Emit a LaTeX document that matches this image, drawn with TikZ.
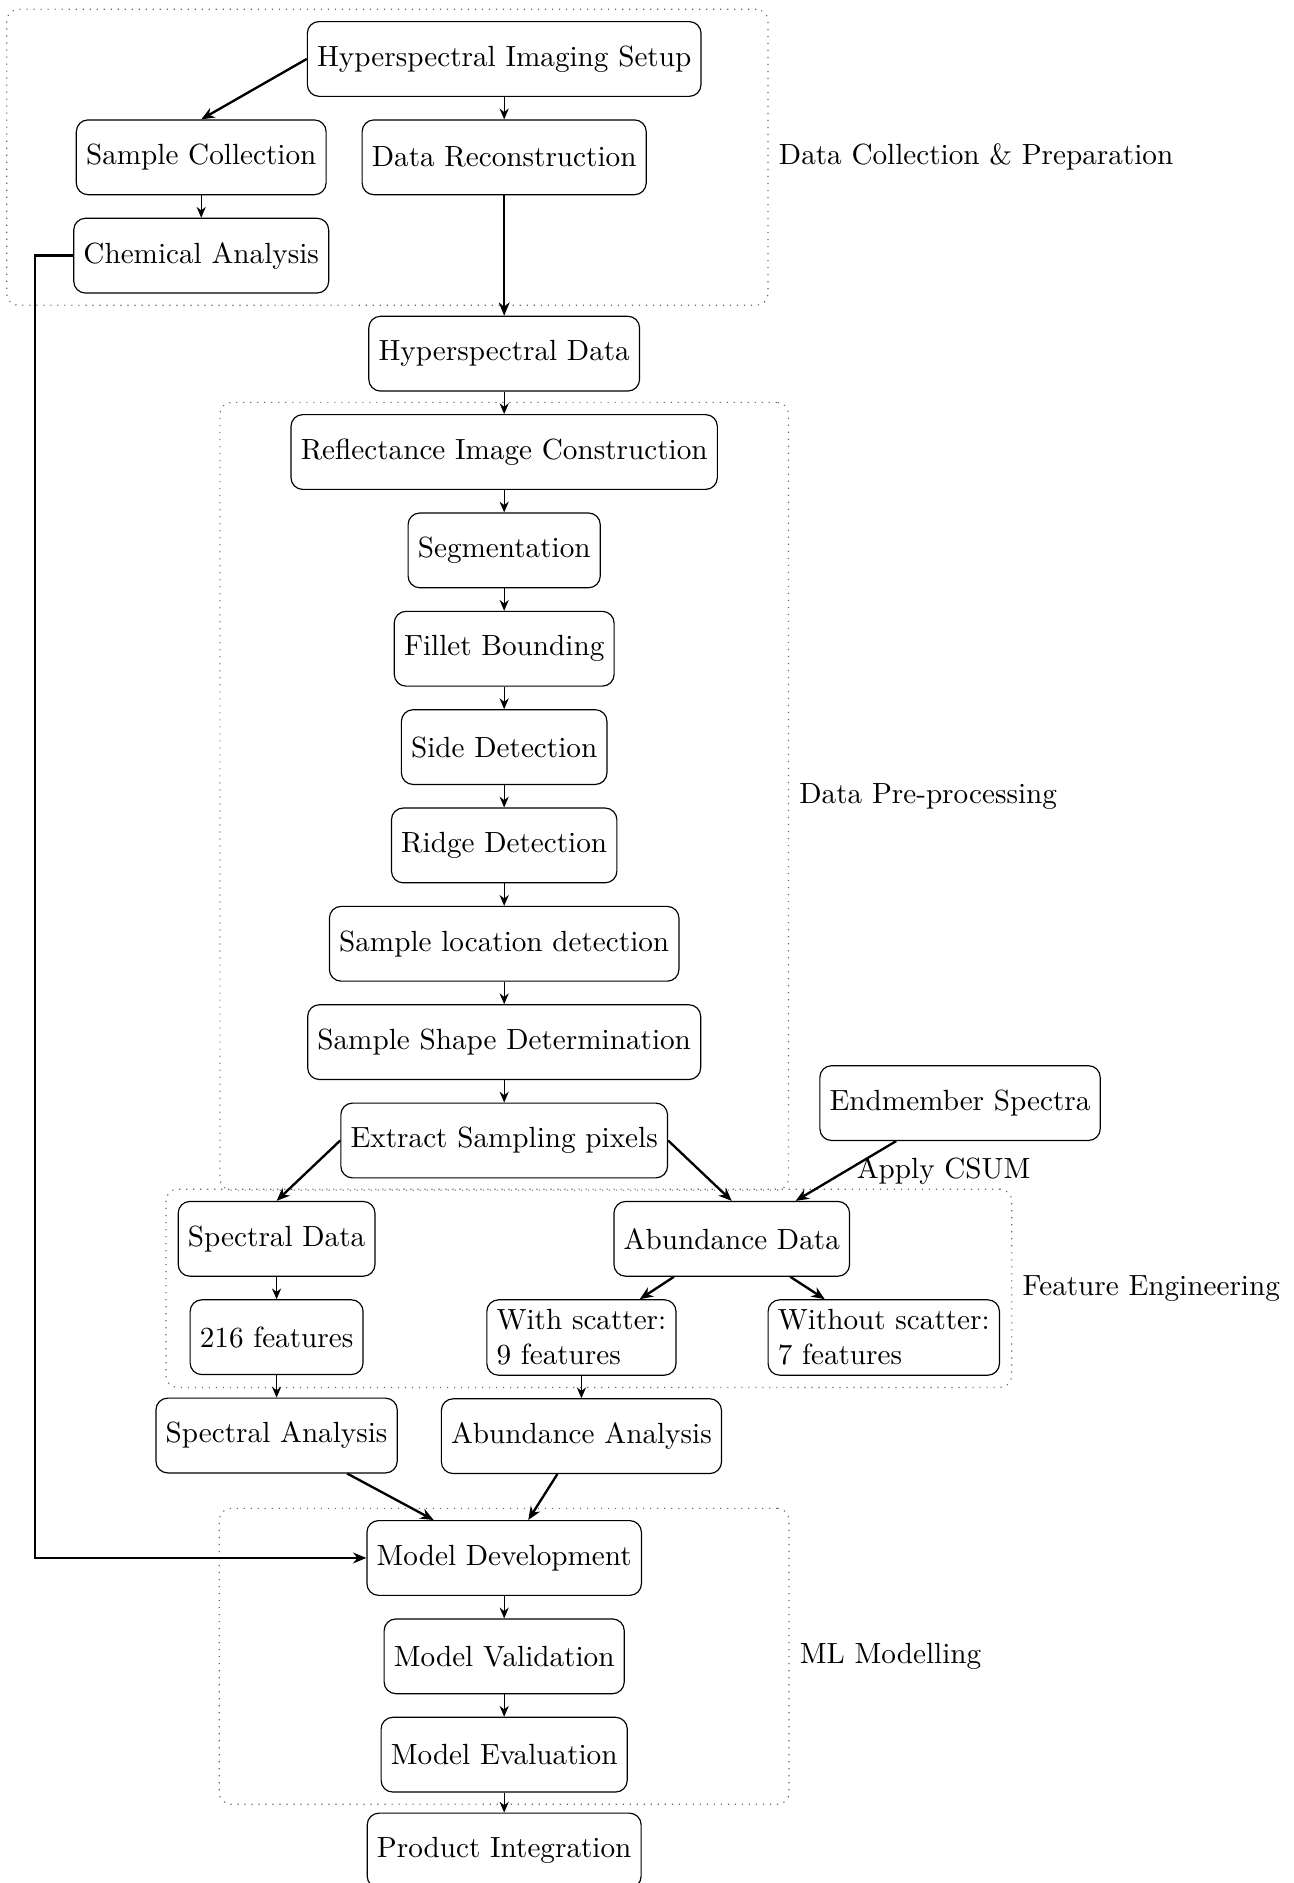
\documentclass[tikz,border=0pt]{standalone}
\usepackage{tikz}
\usetikzlibrary{arrows.meta,positioning,fit,calc}

\begin{document}
\begin{tikzpicture}[
  node distance=0.27cm,
  box/.style={rectangle, draw=black, rounded corners, minimum height=0.9cm, align=center},
  group/.style={draw=black!60, dotted, rounded corners, inner ysep=4pt},
  arr/.style={-{Stealth[length=1.3mm, width=1.1mm]}},
  thickarr/.style={thick, -{Stealth[length=1.6mm, width=1.3mm]}}
]

\useasboundingbox (-6.07,-21.96) rectangle (9.50,0.71);

% data collection
\node[box] (setup) at (0,0) {Hyperspectral Imaging Setup};
\node[box, below=of setup] (recon) {Data Reconstruction};
\node[box, left=0.42cm of recon] (sampcoll) {Sample Collection};
\node[box, below=of sampcoll] (chem) {Chemical Analysis};
\node[box, below=1.45cm of recon] (hsdata) {Hyperspectral Data};

% pre-processing
\node[box, below=of hsdata] (reflect) {Reflectance Image Construction};
\node[box, below=of reflect] (segm) {Segmentation};
\node[box, below=of segm] (fillet) {Fillet Bounding};
\node[box, below=of fillet] (side) {Side Detection};
\node[box, below=of side] (ridge) {Ridge Detection};
\node[box, below=of ridge] (samploc) {Sample location detection};
\node[box, below=of samploc] (sampshape) {Sample Shape Determination};
\node[box, below=of sampshape] (extract) {Extract Sampling pixels};
\node[box, right=1.82cm of extract, yshift=0.45cm] (endm) {Endmember Spectra};

% feature engineering
\node[box, below=of extract, xshift=-2.74cm] (specdata) {Spectral Data};
\node[box, below=of extract, xshift=2.74cm] (abund) {Abundance Data};
\node[box, below=of specdata] (feat216) {216 features};
\node[box, below=of abund, xshift=-1.81cm, align=left] (withsc) {With scatter:\\9 features};
\node[box, below=of abund, xshift=1.83cm, align=left] (nosc) {Without scatter:\\7 features};
\node[box, below=of feat216] (specan) {Spectral Analysis};
\node[box, below=of withsc] (abundan) {Abundance Analysis};

% ML modelling
\coordinate (mlc) at (specan.south -| extract);
\node[box, below=0.56cm of mlc] (modeldev) {Model Development};
\node[box, below=of modeldev] (valid) {Model Validation};
\node[box, below=of valid] (eval) {Model Evaluation};
\node[box, below=0.24cm of eval] (product) {Product Integration};

% stage frames
\node[group, inner xsep=0.8cm, fit=(setup)(sampcoll)(chem)(recon)] (grp1) {};
\node[group, inner xsep=0.85cm, fit=(reflect)(extract)] (grp2) {};
\node[group, inner xsep=4pt, fit=(specdata)(abund)(feat216)(nosc)] (grp3) {};
\node[group, inner xsep=1.77cm, fit=(modeldev)(eval)] (grp4) {};
\node[right=0pt of grp1] (lbl1) {Data Collection \& Preparation};
\node[right=0pt of grp2] (lbl2) {Data Pre-processing};
\node[right=0pt of grp3] (lbl3) {Feature Engineering};
\node[right=0pt of grp4] (lbl4) {ML Modelling};

\draw[thickarr] (setup.west) -- (sampcoll.north);
\draw[arr] (setup) -- (recon);
\draw[arr] (sampcoll) -- (chem);
\draw[thickarr] (recon) -- (hsdata);
\draw[thickarr] (chem.west) -- ++(-0.46,0) |- (modeldev.west);

\draw[arr] (hsdata) -- (reflect);
\draw[arr] (reflect) -- (segm);
\draw[arr] (segm) -- (fillet);
\draw[arr] (fillet) -- (side);
\draw[arr] (side) -- (ridge);
\draw[arr] (ridge) -- (samploc);
\draw[arr] (samploc) -- (sampshape);
\draw[arr] (sampshape) -- (extract);

\draw[thickarr] (extract.west) -- (specdata.north);
\draw[thickarr] (extract.east) -- (abund.north);
\draw[thickarr] (endm) -- node[right] {Apply CSUM} (abund);
\draw[arr] (specdata) -- (feat216);
\draw[thickarr] (abund) -- (withsc);
\draw[thickarr] (abund) -- (nosc);
\draw[arr] (feat216) -- (specan);
\draw[arr] (withsc) -- (abundan);

\draw[thickarr] (specan) -- (modeldev);
\draw[thickarr] (abundan) -- (modeldev);
\draw[arr] (modeldev) -- (valid);
\draw[arr] (valid) -- (eval);
\draw[arr] (eval) -- (product);
\end{tikzpicture}
\end{document}
